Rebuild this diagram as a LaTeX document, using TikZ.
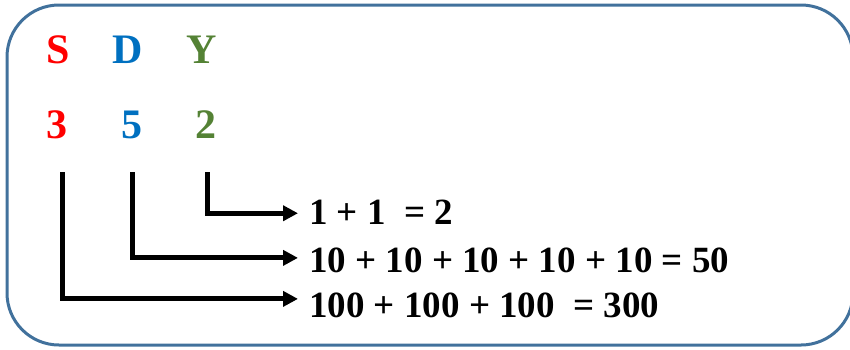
\documentclass[tikz,border=0pt]{standalone}
\usepackage{fontspec}
\setmainfont{Liberation Serif}
\usetikzlibrary{arrows.meta}
\definecolor{boxblue}{HTML}{41719C}
\definecolor{sred}{HTML}{FF0000}
\definecolor{dblue}{HTML}{0070C0}
\definecolor{ygreen}{HTML}{548235}
\begin{document}
\begin{tikzpicture}[x=1pt,y=-1pt,
  big/.style={font=\fontsize{42}{44}\selectfont\bfseries, inner sep=0pt, anchor=base},
  eqn/.style={font=\fontsize{37}{40}\selectfont\bfseries, inner sep=0pt, anchor=base west},
  conn/.style={line width=5pt, -{Triangle[length=15pt,width=15pt]}}]
\useasboundingbox (0,0) rectangle (850,349);
\draw[boxblue, line width=3pt, rounded corners=52pt] (7,5) rectangle (853,345);
% letters
\node[big, text=sred] (S) at (58,63) {S};
\node[big, text=dblue] (D) at (128,63) {D};
\node[big, text=ygreen] (Y) at (202,63) {Y};
% digits
\node[big, text=sred] (n3) at (57,138) {3};
\node[big, text=dblue] (n5) at (132,138) {5};
\node[big, text=ygreen] (n2) at (206,138) {2};
% equations
\node[eqn] (e1) at (309,224) {1 + 1 \ = 2};
\node[eqn] (e2) at (309,272) {10 + 10 + 10 + 10 + 10 = 50};
\node[eqn] (e3) at (309,317) {100 + 100 + 100 \ = 300};
% connector starts
\coordinate (t3) at (62,172);
\coordinate (t5) at (132,172);
\coordinate (t2) at (207,172);
\draw[conn] (t2) |- ([xshift=-11pt,yshift=-1.5pt]e1.west);
\draw[conn] (t5) |- ([xshift=-11pt,yshift=2pt]e2.west);
\draw[conn] (t3) |- ([xshift=-11pt,yshift=6pt]e3.west);
\end{tikzpicture}
\end{document}
